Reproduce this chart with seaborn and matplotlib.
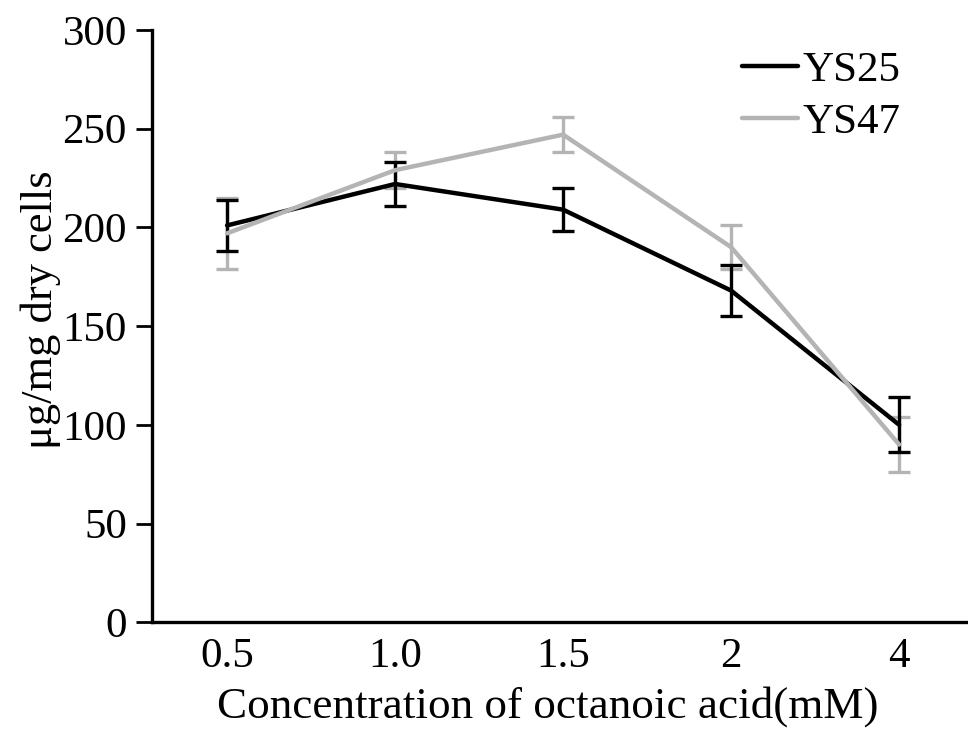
import matplotlib
matplotlib.use("Agg")
import matplotlib.pyplot as plt
import numpy as np
import pandas as pd
import seaborn as sns

# Data
concentrations = ["0.5", "1.0", "1.5", "2", "4"]
ys25_mean = [201, 222, 209, 168, 100]
ys25_err = [13, 11, 11, 13, 14]
ys47_mean = [197, 229, 247, 190, 90]
ys47_err = [18, 9, 9, 11, 14]

sns.set_style("ticks")
plt.rcParams['font.family'] = ['Liberation Serif', 'DejaVu Serif']
plt.rcParams['text.color'] = 'black'
plt.rcParams['axes.labelcolor'] = 'black'
plt.rcParams['xtick.color'] = 'black'
plt.rcParams['ytick.color'] = 'black'
plt.rcParams['axes.edgecolor'] = 'black'

x = np.arange(len(concentrations))
df = pd.DataFrame({
    "x": np.concatenate([x, x]),
    "value": ys25_mean + ys47_mean,
    "strain": ["YS25"] * len(x) + ["YS47"] * len(x),
})
palette = {"YS25": "black", "YS47": "#b4b4b4"}

fig = plt.figure(figsize=(9.68, 7.32), dpi=100)
ax = fig.add_axes([0.157, 0.150, 0.843, 0.809])

# draw the gray series first so black sits on top
for name, means, errs in [("YS47", ys47_mean, ys47_err), ("YS25", ys25_mean, ys25_err)]:
    ax.errorbar(x, means, yerr=errs, fmt="none", ecolor=palette[name],
                elinewidth=2.4, capsize=8, capthick=2.4, zorder=2)
sns.lineplot(data=df, x="x", y="value", hue="strain", palette=palette,
             hue_order=["YS25", "YS47"], linewidth=3.2, ax=ax, zorder=3)

ax.set_xlim(-0.447, 4.41)
ax.set_ylim(0, 300)
ax.set_yticks(range(0, 301, 50))
ax.set_xticks(x)
ax.set_xticklabels(concentrations)
ax.tick_params(axis="y", length=11.5, width=2, labelsize=31, pad=6.5)
ax.tick_params(axis="x", length=0, labelsize=31, pad=11)
for side in ["left", "bottom"]:
    ax.spines[side].set_linewidth(2.4)
sns.despine(ax=ax)

ax.set_xlabel("Concentration of octanoic acid(mM)", fontsize=32.5)
ax.xaxis.set_label_coords(0.485, -0.108)
ax.set_ylabel("μg/mg dry cells", fontsize=32)
ax.yaxis.set_label_coords(-0.111, 0.527)

ax.legend(loc="upper right", bbox_to_anchor=(0.965, 1.03), frameon=False,
          fontsize=31, handlelength=1.3, handletextpad=0.12, labelspacing=0.3)

fig.savefig("out.png", dpi=100)
